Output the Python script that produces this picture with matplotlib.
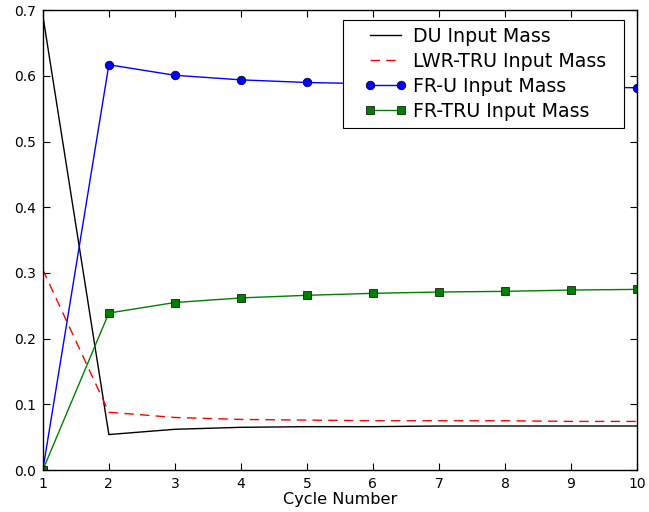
import numpy as np
import matplotlib
matplotlib.use("Agg")
import matplotlib.pyplot as plt
from matplotlib.lines import Line2D
from matplotlib.legend_handler import HandlerLine2D

cycles = [1, 2, 3, 4, 5, 6, 7, 8, 9, 10]
du_mass = [0.692, 0.054, 0.062, 0.065, 0.066, 0.066, 0.067, 0.067, 0.067, 0.067]
lwr_tru_mass = [0.305, 0.088, 0.080, 0.077, 0.076, 0.075, 0.075, 0.075, 0.074, 0.074]
fr_u_mass = [0.0, 0.617, 0.601, 0.594, 0.590, 0.588, 0.586, 0.584, 0.583, 0.582]
fr_tru_mass = [0.0, 0.239, 0.255, 0.262, 0.266, 0.269, 0.271, 0.272, 0.274, 0.275]


# legend handle with a wider inset on the left, like the old-style legend
class PadHandler(HandlerLine2D):
    def get_xdata(self, legend, xdescent, ydescent, width, height, fontsize):
        x = np.linspace(-xdescent + 1.08 * fontsize, -xdescent + width - 0.3 * fontsize, 2)
        return x, x


fig = plt.figure(figsize=(6.49, 5.12), dpi=100)
ax = fig.add_axes([0.066, 0.082, 0.9155, 0.898])

ax.plot(cycles, du_mass, color="black", lw=1.0, label="DU Input Mass")
ax.plot(cycles, lwr_tru_mass, color="red", lw=1.0, ls=(0, (6.8, 4.5)), label="LWR-TRU Input Mass")
ax.plot(cycles, fr_u_mass, color="blue", lw=1.0, marker="o", markersize=6.2,
        markeredgecolor="black", markeredgewidth=0.5, label="FR-U Input Mass")
ax.plot(cycles, fr_tru_mass, color="green", lw=1.0, marker="s", markersize=6.2,
        markeredgecolor="black", markeredgewidth=0.5, label="FR-TRU Input Mass")

ax.set_xlim(1, 10)
ax.set_ylim(0, 0.7)
ax.set_xticks(range(1, 11))
ax.set_yticks(np.arange(0, 0.71, 0.1))
ax.set_yticklabels(["%.1f" % v for v in np.arange(0, 0.71, 0.1)])
ax.tick_params(direction="in", top=True, right=True, length=5, width=0.8, labelsize=10, pad=5)
ax.set_xlabel("Cycle Number", fontsize=11.6, labelpad=1)
for s in ax.spines.values():
    s.set_linewidth(1.0)

leg = ax.legend(loc="upper left", bbox_to_anchor=(0.505, 0.0, 0.4735, 0.9793),
                mode="expand", borderaxespad=0, numpoints=2, fontsize=13.7,
                fancybox=False, framealpha=1, edgecolor="black",
                handlelength=3.0, handletextpad=0.34, borderpad=0.36,
                labelspacing=0.32, handler_map={Line2D: PadHandler()})
leg.get_frame().set_linewidth(0.8)

fig.savefig("out.png", dpi=100)
